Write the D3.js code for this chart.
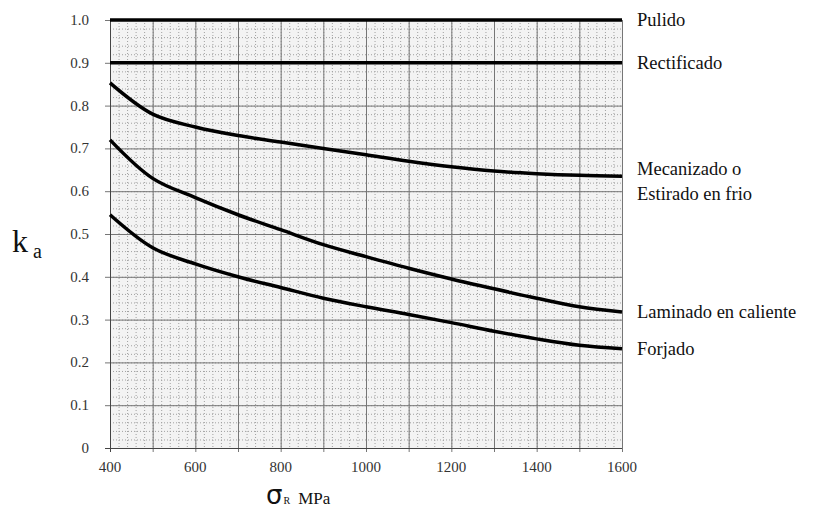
<!DOCTYPE html>
<html>
<head>
<meta charset="utf-8">
<script src="https://cdn.jsdelivr.net/npm/d3@7"></script>
<style>
  body { margin: 0; background: #fff; }
  svg text { font-family: "Liberation Serif", Tinos, "Noto Serif", "DejaVu Serif", Times, serif; }
</style>
</head>
<body>
<svg id="canvas"></svg>
<script>
// resistencia (MPa) en la que se leen las curvas
let sigma = [400, 500, 600, 700, 800, 900, 1000, 1100, 1200, 1300, 1400, 1500, 1600]

let pulido = [1, 1, 1, 1, 1, 1, 1, 1, 1, 1, 1, 1, 1]
let rectificado = [0.9, 0.9, 0.9, 0.9, 0.9, 0.9, 0.9, 0.9, 0.9, 0.9, 0.9, 0.9, 0.9]
let mecanizado = [0.853, 0.78, 0.75, 0.73, 0.715, 0.70, 0.685, 0.67, 0.657, 0.647, 0.641, 0.637, 0.635]
let laminado = [0.72, 0.63, 0.585, 0.545, 0.51, 0.475, 0.447, 0.42, 0.395, 0.372, 0.35, 0.33, 0.318]
let forjado = [0.545, 0.468, 0.43, 0.40, 0.375, 0.35, 0.33, 0.312, 0.293, 0.273, 0.255, 0.24, 0.232]

let curveNames = [["Pulido"], ["Rectificado"], ["Mecanizado o", "Estirado en frio"], ["Laminado en caliente"], ["Forjado"]]
let curveValues = [pulido, rectificado, mecanizado, laminado, forjado]

let xTicks = [400, 600, 800, 1000, 1200, 1400, 1600]
let yTicks = [0, 0.1, 0.2, 0.3, 0.4, 0.5, 0.6, 0.7, 0.8, 0.9, 1.0]
let yTickLabels = ["0", "0.1", "0.2", "0.3", "0.4", "0.5", "0.6", "0.7", "0.8", "0.9", "1.0"]

let width = 820
let height = 516

let svg = d3.select("#canvas")
svg.attr("width", width)
svg.attr("height", height)

let xScale = d3.scaleLinear().domain([400, 1600]).range([110, 622])
let yScale = d3.scaleLinear().domain([0, 1]).range([448, 20])

// fondo del papel milimetrado
svg.append("rect")
    .attr("x", xScale(400))
    .attr("y", yScale(1))
    .attr("width", xScale(1600) - xScale(400))
    .attr("height", yScale(0) - yScale(1))
    .attr("fill", "#f3f3f3")

let minorX = d3.range(400, 1601, 20)
let minorY = d3.range(0, 51).map(i => i * 0.02)

svg.append("g").selectAll("line")
    .data(minorX)
    .enter()
    .append("line")
    .attr("x1", d => xScale(d) + 0.5)
    .attr("x2", d => xScale(d) + 0.5)
    .attr("y1", yScale(1))
    .attr("y2", yScale(0))
    .attr("stroke", "#a0a0a0")
    .attr("stroke-dasharray", "1,2")

svg.append("g").selectAll("line")
    .data(minorY)
    .enter()
    .append("line")
    .attr("y1", d => yScale(d) + 0.5)
    .attr("y2", d => yScale(d) + 0.5)
    .attr("x1", xScale(400))
    .attr("x2", xScale(1600))
    .attr("stroke", "#a0a0a0")
    .attr("stroke-dasharray", "1,2")

let majorX = d3.range(400, 1601, 100)
svg.append("g").selectAll("line")
    .data(majorX)
    .enter()
    .append("line")
    .attr("x1", d => xScale(d) + 0.5)
    .attr("x2", d => xScale(d) + 0.5)
    .attr("y1", yScale(1))
    .attr("y2", yScale(0) + 4)
    .attr("stroke", "#767676")
    .attr("stroke-width", 1)

svg.append("g").selectAll("line")
    .data(yTicks)
    .enter()
    .append("line")
    .attr("y1", d => yScale(d) + 0.5)
    .attr("y2", d => yScale(d) + 0.5)
    .attr("x1", xScale(400) - 5)
    .attr("x2", xScale(1600))
    .attr("stroke", "#767676")
    .attr("stroke-width", 1)

// ejes
svg.append("line")
    .attr("x1", xScale(400) + 0.5).attr("x2", xScale(400) + 0.5)
    .attr("y1", yScale(1)).attr("y2", yScale(0) + 4)
    .attr("stroke", "#444")
svg.append("line")
    .attr("x1", xScale(400) - 5).attr("x2", xScale(1600))
    .attr("y1", yScale(0) + 0.5).attr("y2", yScale(0) + 0.5)
    .attr("stroke", "#444")

svg.append("g").selectAll("text")
    .data(xTicks)
    .enter()
    .append("text")
    .attr("x", d => xScale(d))
    .attr("y", yScale(0) + 24)
    .attr("text-anchor", "middle")
    .attr("font-size", 15)
    .attr("fill", "#333")
    .text(d => d)

svg.append("g").selectAll("text")
    .data(yTicks)
    .enter()
    .append("text")
    .attr("x", 89)
    .attr("y", d => yScale(d) + 5)
    .attr("text-anchor", "end")
    .attr("font-size", 15)
    .attr("fill", "#333")
    .text((d, i) => yTickLabels[i])

// curvas
let line = d3.line()
    .x((d, i) => xScale(sigma[i]))
    .y(d => yScale(d))
    .curve(d3.curveCatmullRom.alpha(0.5))

svg.append("g").selectAll("path")
    .data(curveValues)
    .enter()
    .append("path")
    .attr("d", d => line(d))
    .attr("fill", "none")
    .attr("stroke", "#000")
    .attr("stroke-width", 3.5)

// nombres de las curvas
let labelGroup = svg.append("g")
curveNames.forEach((names, k) => {
    let last = curveValues[k][curveValues[k].length - 1]
    let y0 = yScale(last) + 6 - (names.length > 1 ? 7 : 0)
    names.forEach((n, j) => {
        labelGroup.append("text")
            .attr("x", 637)
            .attr("y", y0 + j * 25)
            .attr("font-size", 18.5)
            .attr("fill", "#111")
            .text(n)
    })
})

// titulos de ejes
let ka = svg.append("text")
    .attr("x", 12)
    .attr("y", 252)
    .attr("fill", "#111")
ka.append("tspan").attr("font-size", 32).text("k")
ka.append("tspan").attr("font-size", 20).attr("dx", 5).attr("dy", 6).text("a")

let sg = svg.append("text")
    .attr("x", 266)
    .attr("y", 504)
    .attr("fill", "#111")
sg.append("tspan").style("font-family", "'DejaVu Sans', sans-serif").attr("font-size", 26).text("σ")
sg.append("tspan").attr("font-size", 10).attr("dx", 1).text("R")
sg.append("tspan").attr("font-size", 17).attr("dx", 8).text("MPa")
</script>
</body>
</html>
